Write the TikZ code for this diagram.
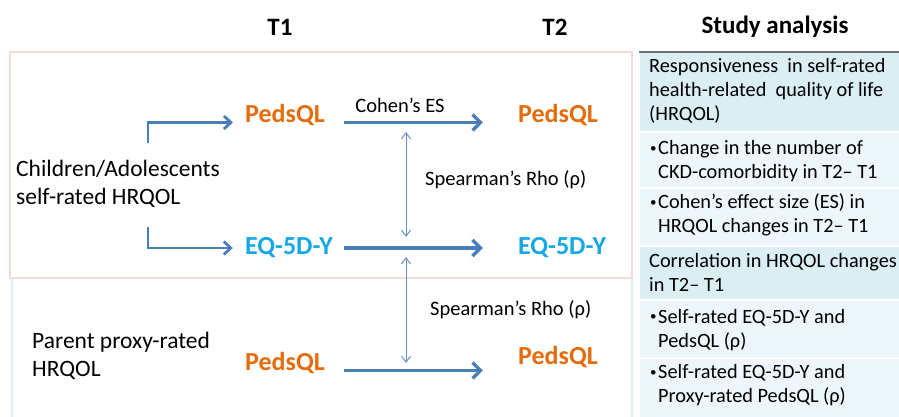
\documentclass[tikz,border=0pt]{standalone}
\usepackage{fontspec}
\setmainfont{Carlito}
\usetikzlibrary{arrows.meta}
\definecolor{arrowblue}{HTML}{4A7EBB}
\definecolor{pedsorange}{HTML}{E46C0A}
\definecolor{eqcyan}{HTML}{14A8E4}
\definecolor{selfframe}{HTML}{F2DCDB}
\definecolor{proxyframe}{HTML}{DBEEF4}
\definecolor{headfill}{HTML}{DAEEF3}
\definecolor{itemfill}{HTML}{EDF6FA}
\definecolor{ruleline}{HTML}{707070}
\newcommand{\smallbullet}{\llap{\raisebox{0.25ex}{\fontsize{13}{13}\selectfont •}\hspace{1.5pt}}}
\begin{document}
\begin{tikzpicture}[x=1pt,y=-1pt,
  coltitle/.style={font=\fontsize{25}{30}\selectfont\bfseries, inner sep=0pt},
  instr/.style={font=\fontsize{26}{30}\selectfont\bfseries, inner sep=0pt},
  grouplabel/.style={font=\fontsize{23.5}{28}\selectfont, align=left, inner sep=0pt, anchor=west},
  linklabel/.style={font=\fontsize{20.5}{24}\selectfont, inner sep=0pt},
  celltext/.style={font=\fontsize{20.3}{24}\selectfont, align=left, inner sep=0pt, anchor=west},
  flow/.style={draw=arrowblue, line width=3.4pt, -{Straight Barb[length=8pt,width=16pt]}},
  branch/.style={draw=arrowblue, line width=2.8pt, -{Straight Barb[length=7pt,width=13pt]}},
  corr/.style={draw=arrowblue!85, line width=1pt,
    {Straight Barb[length=6pt,width=9pt]}-{Straight Barb[length=6pt,width=9pt]}},
  headrow/.style={fill=headfill, draw=white, line width=1.5pt},
  itemrow/.style={fill=itemfill, draw=white, line width=1.5pt},
]
\useasboundingbox (0,0) rectangle (899,417);
\fill[white] (0,0) rectangle (899,417);

% group frames
\draw[proxyframe, line width=2pt] (12,278) rectangle (632,440);
\draw[selfframe, line width=2pt] (10,52) rectangle (632,278);

% analysis table
\path[headrow] (639,52) rectangle (910,132);
\path[itemrow] (639,132) rectangle (910,188);
\path[itemrow] (639,188) rectangle (910,246);
\path[headrow] (639,246) rectangle (910,300);
\path[itemrow] (639,300) rectangle (910,358);
\path[itemrow] (639,358) rectangle (910,440);
\draw[ruleline, line width=1.5pt] (639,52) -- (910,52);

% column titles
\node[coltitle] (t1) at (280,27) {T1};
\node[coltitle] (t2) at (555,27) {T2};
\node[coltitle] (sa) at (775,27) {Study analysis};

% rater groups
\node[grouplabel] (kids) at (16,184) {Children/Adolescents\\self-rated HRQOL};
\node[grouplabel] (parent) at (32,356) {Parent proxy-rated\\HRQOL};

% instruments
\node[instr, text=pedsorange] (pedsL1) at (285,115) {PedsQL};
\node[instr, text=pedsorange] (pedsR1) at (558,115) {PedsQL};
\node[instr, text=eqcyan] (eqL) at (289,248) {EQ-5D-Y};
\node[instr, text=eqcyan] (eqR) at (562,248) {EQ-5D-Y};
\node[instr, text=pedsorange] (pedsL2) at (285,363) {PedsQL};
\node[instr, text=pedsorange] (pedsR2) at (558,357) {PedsQL};

% link labels
\node[linklabel] (cohen) at (400,105) {Cohen’s ES};
\node[linklabel, anchor=west] (rho1) at (425,180) {Spearman’s Rho (ρ)};
\node[linklabel, anchor=west] (rho2) at (430,310) {Spearman’s Rho (ρ)};

% branch starts and correlation ends
\coordinate (kidsUp) at (148,143);
\coordinate (kidsDown) at (148,227);
\coordinate (cA) at (406,132);
\coordinate (cB) at (406,237);
\coordinate (cC) at (406,257);
\coordinate (cD) at (406,363);

% connectors
\draw[branch, shorten >=12pt] (kidsUp) |- (pedsL1.base west);
\draw[branch, shorten >=12pt] (kidsDown) |- (eqL.west);
\draw[flow, shorten <=19pt, shorten >=35pt] (pedsL1.base east) -- (pedsR1.base west);
\draw[flow, shorten <=11pt, shorten >=35pt] (eqL.east) -- (eqR.west);
\draw[flow, shorten <=19pt, shorten >=35pt] (pedsL2.base east) -- (pedsL2.base east -| pedsR2.west);
\draw[corr] (cA) -- (cB);
\draw[corr] (cC) -- (cD);

% analysis table text
\node[celltext] (r1) at (649,91) {Responsiveness\ \ in self-rated\\health-related\ \ quality of life\\(HRQOL)};
\node[celltext] (r2) at (658,161.5) {\smallbullet Change in the number of\\CKD-comorbidity in T2– T1};
\node[celltext] (r3) at (658,215) {\smallbullet Cohen’s effect size (ES) in\\HRQOL changes in T2– T1};
\node[celltext] (r4) at (649,272.5) {Correlation in HRQOL changes\\in T2– T1};
\node[celltext] (r5) at (658,330) {\smallbullet Self-rated EQ-5D-Y and\\PedsQL (ρ)};
\node[celltext] (r6) at (658,385.5) {\smallbullet Self-rated EQ-5D-Y and\\Proxy-rated PedsQL (ρ)};
\end{tikzpicture}
\end{document}
